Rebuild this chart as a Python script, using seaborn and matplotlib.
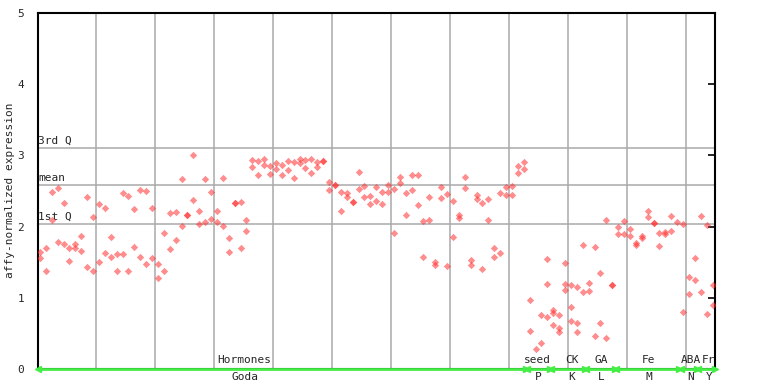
import pandas as pd
import matplotlib
matplotlib.use("Agg")
import matplotlib.pyplot as plt
import seaborn as sns

# replicate values per sample, grouped by experiment
goda = [
    [1.64, 1.56], [1.70, 1.38], [2.48, 2.09], [2.54, 1.79], [2.33, 1.75],
    [1.70, 1.51], [1.75, 1.70], [1.87, 1.66], [2.41, 1.43], [2.13, 1.38],
    [2.32, 1.50], [2.26, 1.63], [1.85, 1.58], [1.61, 1.38], [2.47, 1.61],
    [2.43, 1.38], [2.25, 1.71], [2.52, 1.57], [2.50, 1.47], [2.26, 1.56],
    [1.47, 1.28], [1.91, 1.38], [2.19, 1.68], [2.20, 1.81], [2.67, 2.01],
    [2.16, 2.16], [3.00, 2.37], [2.22, 2.04], [2.67, 2.06], [2.48, 2.10],
    [2.22, 2.06], [2.68, 2.01], [1.84, 1.64], [2.33, 2.33], [2.35, 1.70],
    [2.09, 1.94], [2.93, 2.84], [2.92, 2.72], [2.95, 2.86], [2.85, 2.74],
    [2.89, 2.81], [2.86, 2.72], [2.92, 2.80], [2.91, 2.68], [2.95, 2.89],
    [2.93, 2.82], [2.95, 2.75], [2.91, 2.84], [2.92, 2.92], [2.63, 2.51],
    [2.58, 2.58], [2.49, 2.22], [2.47, 2.42], [2.35, 2.35], [2.77, 2.53],
    [2.57, 2.42], [2.43, 2.32], [2.56, 2.36], [2.49, 2.32], [2.58, 2.49],
    [2.53, 1.91], [2.70, 2.61], [2.47, 2.16], [2.72, 2.51], [2.72, 2.30],
    [2.08, 1.57], [2.41, 2.09], [1.50, 1.46], [2.56, 2.40], [2.46, 1.45],
    [2.36, 1.85], [2.16, 2.12], [2.70, 2.54], [1.53, 1.46], [2.44, 2.39],
    [2.33, 1.40], [2.39, 2.09], [1.70, 1.57], [2.47, 1.63], [2.56, 2.44],
    [2.57, 2.44], [2.85, 2.75], [2.91, 2.81],
]
seed = [[0.97, 0.53], [0.28], [0.76, 0.37], [1.54, 1.19, 0.73]]
ck = [[0.83, 0.79, 0.62], [0.76, 0.58, 0.52], [1.49, 1.19, 1.11],
      [1.18, 0.87, 0.67], [1.15, 0.65, 0.52], [1.74, 1.08]]
ga = [[1.21, 1.10], [1.71, 0.46], [1.35, 0.65], [2.09, 0.44], [1.18, 1.18]]
fe = [[1.99, 1.90], [2.08, 1.90], [1.97, 1.87], [1.77, 1.74], [1.87, 1.84],
      [2.22, 2.13], [2.05, 2.05], [1.91, 1.73], [1.92, 1.90], [2.15, 1.94],
      [2.06]]
aba = [[2.04, 0.80], [1.29, 1.05], [1.56, 1.25]]
fr = [[2.15, 1.08], [2.02, 0.77], [1.18, 0.90]]

groups = [goda, seed, ck, ga, fe, aba, fr]
top_labels = ["Hormones", "seed", "CK", "GA", "Fe", "ABA", "Fr"]
bottom_labels = ["Goda", "P", "K", "L", "M", "N", "Y"]
label_pos = [34.7, 84.4, 90.2, 95.1, 103.2, 110.3, 113.4]

q3, mean, q1 = 3.10, 2.58, 2.04

rows = []
spans = []
idx = 0
for g in groups:
    start = idx
    for reps in g:
        for v in reps:
            rows.append({"sample": idx, "value": v})
        idx += 1
    spans.append((start, idx - 1))
df = pd.DataFrame(rows)

sns.set_style("white")
plt.rcParams["font.family"] = ["DejaVu Sans Mono"]

fig = plt.figure(figsize=(7.68, 3.84), dpi=100)
ax = fig.add_axes([38 / 768, 15 / 384, 677 / 768, 356 / 384])

xmin, xmax = -0.33, 114.42
ax.set_xlim(xmin, xmax)
ax.set_ylim(0, 5)

for xv in [9.5 + 10 * k for k in range(11)]:
    ax.axvline(xv, color="#aaaaaa", lw=1.1, zorder=1)
for yv, txt in [(q3, "3rd Q"), (mean, "mean"), (q1, "1st Q")]:
    ax.axhline(yv, color="#aaaaaa", lw=1.1, zorder=1)
    ax.text(xmin + 0.05, yv + 0.03, txt, fontsize=8, va="bottom", ha="left")

sns.scatterplot(data=df, x="sample", y="value", marker="D", color="#ff3030",
                alpha=0.55, s=14, linewidth=0, ax=ax, legend=False, zorder=3)

# green experiment bar along the bottom
ax.plot([xmin, xmax], [0, 0], color="#44ee44", lw=2, clip_on=False, zorder=4)
for a, b in spans:
    ax.plot(a - 0.4, 0, marker="<", color="#44ee44", ms=4, clip_on=False, zorder=5)
    ax.plot(b + 0.4, 0, marker=">", color="#44ee44", ms=4, clip_on=False, zorder=5)

for x, t, b in zip(label_pos, top_labels, bottom_labels):
    ax.text(x, 0.05, t, fontsize=8, ha="center", va="bottom")
    ax.text(x, -0.04, b, fontsize=8, ha="center", va="top", clip_on=False)

ax.set_xticks([])
ax.set_yticks(range(6))
ax.tick_params(axis="y", direction="in", length=5, width=1.2, right=True,
               labelsize=8, pad=10, color="black")
ax.set_xlabel("")
ax.set_ylabel("")
for s in ax.spines.values():
    s.set_color("black")
    s.set_linewidth(1.5)

fig.text(10 / 768, 0.505, "affy-normalized expression", rotation=90,
         fontsize=8, ha="center", va="center")

fig.savefig("out.png", dpi=100)
